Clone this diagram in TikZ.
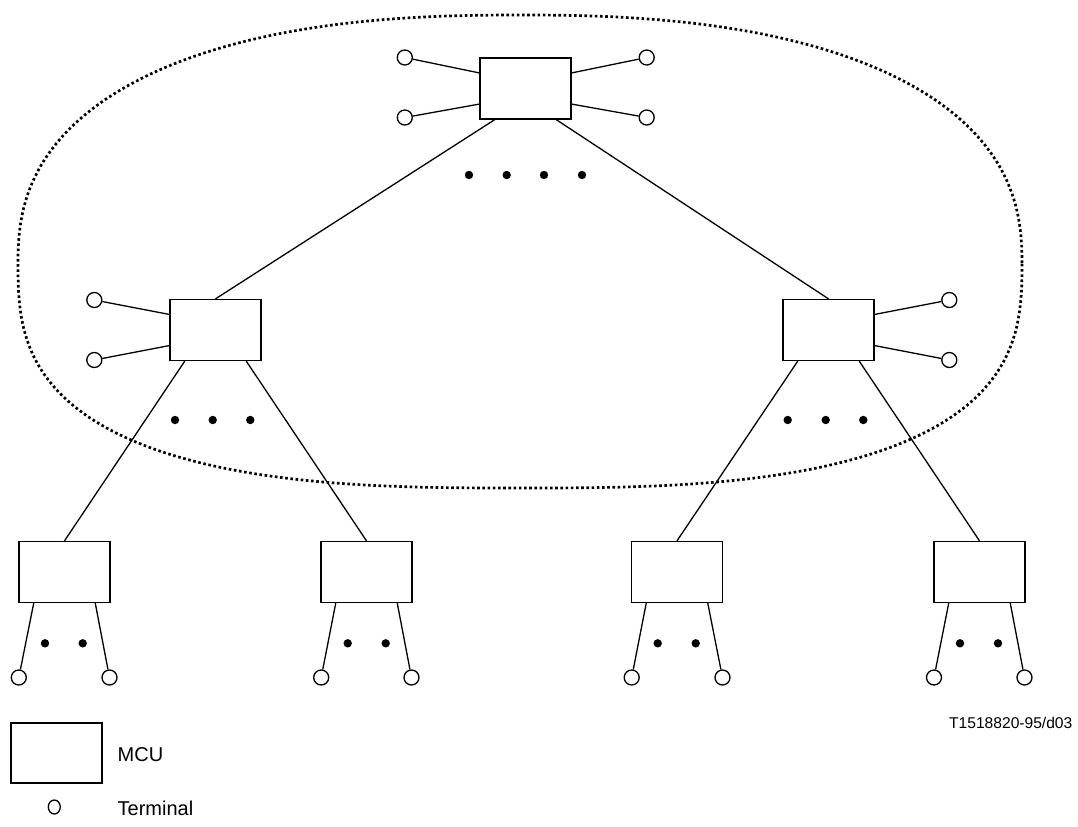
\documentclass[tikz,border=0pt]{standalone}
\usepackage{fontspec}
\setmainfont{Liberation Sans}
\usetikzlibrary{calc,shapes.geometric}
\begin{document}
\begin{tikzpicture}[x=0.5pt,y=-0.5pt,
  line width=0.65pt,
  mcu/.style={draw, minimum width=45.5pt, minimum height=30.5pt, inner sep=0pt},
  term/.style={circle, draw, minimum size=7.5pt, inner sep=0pt},
  bigdot/.style={circle, fill, minimum size=4.2pt, inner sep=0pt},
  cloud/.style={line width=1.35pt, dash pattern=on 1.3pt off 1.3pt},
  lbl/.style={inner sep=0pt, font=\fontsize{10}{12}\selectfont},
  code/.style={inner sep=0pt, font=\fontsize{7.8}{9}\selectfont}]
\useasboundingbox (0,0) rectangle (1078,826);

% dotted boundary
\draw[cloud]
  plot[domain=0:180, samples=200, variable=\t]
    ({520+502*cos(\t)*pow(abs(cos(\t))+0.0001,2/2.4-1)},
     {263-248*sin(\t)*pow(abs(sin(\t))+0.0001,2/2.4-1)})
  -- plot[domain=180:360, samples=200, variable=\t]
    ({520+502*cos(\t)*pow(abs(cos(\t))+0.0001,2/2.8-1)},
     {263-225*sin(\t)*pow(abs(sin(\t))+0.0001,2/2.8-1)}) -- cycle;

% MCUs
\node[mcu] (top)  at (525.5,88.5) {};
\node[mcu] (midL) at (215.5,330) {};
\node[mcu] (midR) at (828.5,330) {};
\node[mcu] (b1) at (64.5,572) {};
\node[mcu] (b2) at (366.5,572) {};
\node[mcu] (b3) at (677,572) {};
\node[mcu] (b4) at (979.5,572) {};

% terminals of top MCU
\node[term] (tt1) at (404.8,57.5) {};
\node[term] (tt2) at (404.8,117.5) {};
\node[term] (tt3) at (646.7,57.5) {};
\node[term] (tt4) at (646.7,117.5) {};
\draw ($(top.north west)!.25!(top.south west)$) -- (tt1);
\draw ($(top.north west)!.75!(top.south west)$) -- (tt2);
\draw ($(top.north east)!.25!(top.south east)$) -- (tt3);
\draw ($(top.north east)!.75!(top.south east)$) -- (tt4);

% terminals of middle MCUs
\node[term] (lt1) at (94.3,300) {};
\node[term] (lt2) at (94.3,360) {};
\draw ($(midL.north west)!.25!(midL.south west)$) -- (lt1);
\draw ($(midL.north west)!.75!(midL.south west)$) -- (lt2);
\node[term] (rt1) at (949.3,300) {};
\node[term] (rt2) at (949.3,360) {};
\draw ($(midR.north east)!.25!(midR.south east)$) -- (rt1);
\draw ($(midR.north east)!.75!(midR.south east)$) -- (rt2);

% MCU to MCU links
\draw ($(top.south west)!{1/6}!(top.south east)$) -- (midL.north);
\draw ($(top.south west)!{5/6}!(top.south east)$) -- (midR.north);
\draw ($(midL.south west)!{1/6}!(midL.south east)$) -- (b1.north);
\draw ($(midL.south west)!{5/6}!(midL.south east)$) -- (b2.north);
\draw ($(midR.south west)!{1/6}!(midR.south east)$) -- (b3.north);
\draw ($(midR.south west)!{5/6}!(midR.south east)$) -- (b4.north);

% terminals of bottom MCUs
\foreach \b/\xl/\xr in {b1/18.8/109.5, b2/321.2/411.5, b3/631.7/722.5, b4/934/1024.5}{
  \node[term] (\b l) at (\xl,677.5) {};
  \node[term] (\b r) at (\xr,677.5) {};
  \draw ($(\b.south west)!{1/6}!(\b.south east)$) -- (\b l);
  \draw ($(\b.south west)!{5/6}!(\b.south east)$) -- (\b r);
}

% ellipsis dots
\foreach \x [count=\i] in {469,506.7,544,582} \node[bigdot] (dt\i) at (\x,175) {};
\foreach \x [count=\i] in {175,212.7,250.3} \node[bigdot] (dl\i) at (\x,420) {};
\foreach \x [count=\i] in {787.7,825.7,863.3} \node[bigdot] (dr\i) at (\x,420) {};
\foreach \x [count=\i] in {45,82.7,347.7,385.7,657.7,695.7,960,998} \node[bigdot] (db\i) at (\x,643.3) {};

% code
\node[code, anchor=base east] (codelbl) at (1073,728) {T1518820-95/d03};

% legend
\node[mcu, minimum height=30pt] (legbox) at (56.5,753) {};
\node[lbl, anchor=base west] (legmcu) at (117,761) {MCU};
\node[ellipse, draw, minimum width=6pt, minimum height=7pt, inner sep=0pt] (legterm) at (54.3,807) {};
\node[lbl, anchor=base west] (legtermlbl) at (117,815) {Terminal};
\end{tikzpicture}
\end{document}
